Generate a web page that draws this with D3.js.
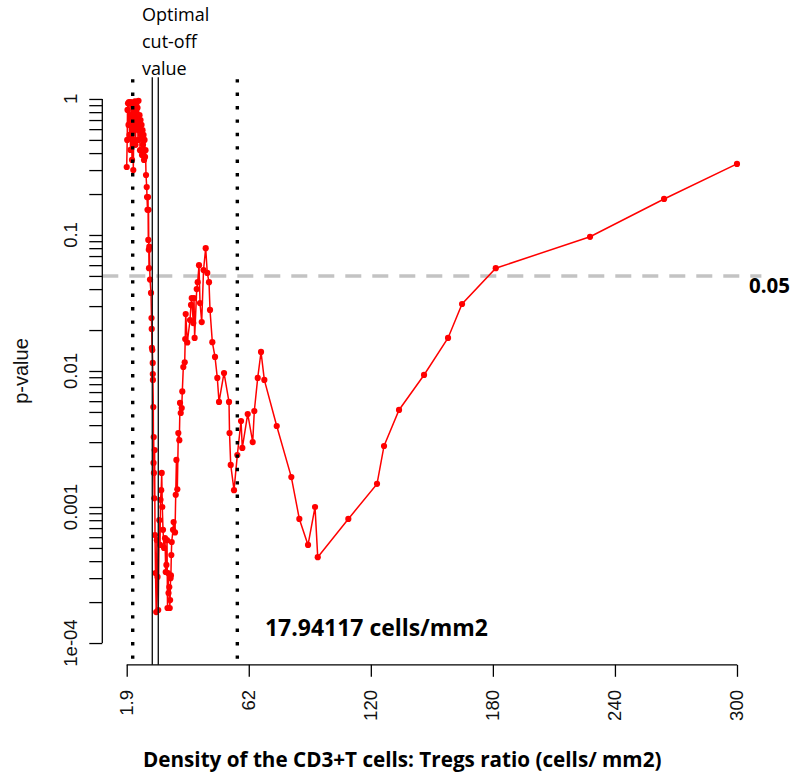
<!DOCTYPE html>
<html>
<head>
<meta charset="utf-8">
<script src="https://cdn.jsdelivr.net/npm/d3@7"></script>
<style>
  html, body { margin: 0; padding: 0; background: #fff; }
  svg { display: block; }
</style>
</head>
<body>
<svg id="chart" width="795" height="782"></svg>
<script>
// ---------- DATA ----------
const cutoffs = [
  1.90, 2.14, 2.29, 2.54, 2.78, 3.02, 3.27, 3.51, 3.76, 4.00,
  4.24, 4.49, 4.73, 4.98, 5.12, 5.47, 5.71, 5.95, 6.20, 6.44,
  6.69, 6.93, 7.18, 7.42, 7.66, 7.91, 8.15, 8.40, 8.64, 8.89,
  9.13, 9.37, 9.62, 9.86, 10.11, 10.35, 10.60, 10.84, 11.08, 11.33,
  11.67, 11.82, 12.06, 12.31, 12.45, 12.55, 12.70, 12.79, 12.94, 13.28,
  13.77, 14.01, 14.11, 14.21, 14.41, 14.60, 14.65, 14.70, 14.89, 14.99,
  15.09, 15.19, 15.38, 15.55, 15.72, 15.97, 16.31, 16.65, 16.95, 17.29,
  17.83, 18.17, 18.41, 18.75, 19.00, 19.29, 19.63, 20.12, 20.61, 20.95,
  21.29, 21.59, 21.83, 22.08, 22.32, 22.71, 22.91, 23.10, 23.30, 23.49,
  23.69, 23.88, 24.52, 24.81, 25.49, 25.84, 26.18, 26.62, 27.11, 27.60,
  27.94, 28.28, 28.77, 29.06, 29.55, 30.23, 30.48, 30.72, 31.50, 32.82,
  33.31, 33.66, 34.43, 34.78, 35.07, 36.10, 36.58, 37.22, 37.71, 38.54,
  39.42, 40.48, 41.26, 42.10, 42.59, 43.72, 45.03, 46.16, 46.99, 49.43,
  51.87, 52.12, 52.70, 54.32, 55.93, 57.74, 58.37, 61.01, 63.45, 64.23,
  65.89, 67.51, 69.12, 75.18, 82.31, 86.22, 90.47, 93.89, 95.21, 110.15,
  124.17, 127.59, 134.92, 147.13, 158.86, 165.70, 182.16, 228.23, 264.38, 300.00
];
const pValues = [
  0.316, 0.50, 0.83, 0.93, 0.644, 0.95, 0.544, 0.762, 0.422, 0.95,
  0.70, 0.356, 0.90, 0.50, 0.30, 0.83, 0.59, 0.96, 0.46, 0.725,
  0.95, 0.644, 0.86, 0.50, 0.97, 0.59, 0.76, 0.42, 0.70, 0.544,
  0.644, 0.388, 0.59, 0.46, 0.544, 0.356, 0.50, 0.375, 0.42, 0.276,
  0.225, 0.19, 0.153, 0.19, 0.092, 0.153, 0.078, 0.057, 0.082, 0.047,
  0.0375, 0.0245, 0.0204, 0.0148, 0.01426, 0.01146, 0.0095, 0.0086, 0.00543, 0.00211,
  0.00327, 0.00178, 0.00116, 0.00262, 0.000622, 0.000327, 0.000169, 0.00057, 0.000306, 0.000175,
  0.0008, 0.000526, 0.00113, 0.00133, 0.00178, 0.001, 0.00068, 0.0005, 0.00059, 0.000333,
  0.000375, 0.00057, 0.000181, 0.000327, 0.000233, 0.000258, 0.000181, 0.000207, 0.0003, 0.000314,
  0.000444, 0.000553, 0.00068, 0.000776, 0.00065, 0.00123, 0.00222, 0.00135, 0.0035, 0.0031,
  0.00582, 0.00491, 0.00534, 0.00708, 0.0107, 0.0116, 0.01718, 0.0262, 0.0162, 0.0237,
  0.0306, 0.0344, 0.0225, 0.0344, 0.0175, 0.040, 0.045, 0.060, 0.0316, 0.0229,
  0.0553, 0.080, 0.0526, 0.045, 0.0281, 0.0163, 0.0127, 0.00889, 0.00592, 0.00967,
  0.00592, 0.0035, 0.00204, 0.00133, 0.00241, 0.00429, 0.00272, 0.00483, 0.0030, 0.00508,
  0.00889, 0.0138, 0.0086, 0.00394, 0.00166, 0.000817, 0.000526, 0.001, 0.000428, 0.000817,
  0.00148, 0.00281, 0.00517, 0.00935, 0.0175, 0.0311, 0.057, 0.097, 0.184, 0.333
];
const xTickValues = [1.9, 61.52, 121.14, 180.76, 240.38, 300];
const xTickLabels = ["1.9", "62", "120", "180", "240", "300"];
const yMajorTicks = [1, 0.1, 0.01, 0.001, 0.0001];
const yMajorLabels = ["1", "0.1", "0.01", "0.001", "1e-04"];
const optimalCutoffs = [14.40, 17.33];
const dottedCutoffs = [4.83, 55.93];
const threshold = 0.05;
const thresholdLabel = "0.05";
const cutoffLabel = "17.94117 cells/mm2";
const optimalLabel = ["Optimal", "cut-off", "value"];
const xTitle = "Density of the CD3+T cells: Tregs ratio (cells/ mm2)";
const yTitle = "p-value";

// ---------- LAYOUT ----------
const svg = d3.select("#chart");
const plotL = 102.3, plotR = 761.4, plotT = 77.2, plotB = 664.8;
const xr = d3.extent(cutoffs), xPad = 0.04 * (xr[1] - xr[0]);
const x = d3.scaleLinear().domain([xr[0] - xPad, xr[1] + xPad]).range([plotL, plotR]);
const y = d3.scaleLog().domain([Math.pow(10, -4.16), Math.pow(10, 0.16)]).range([plotB, plotT]);

const tickFont = "'Liberation Sans', Arial, sans-serif";
const calFont = "'Open Sans', 'Noto Sans', sans-serif";

// threshold dashed line
svg.append("line")
  .attr("x1", plotL).attr("x2", plotR)
  .attr("y1", y(threshold)).attr("y2", y(threshold))
  .attr("stroke", "#c3c3c3").attr("stroke-width", 3.5)
  .attr("stroke-dasharray", "16,11");

// data line + points
const pts = cutoffs.map((c, i) => [c, pValues[i]]);
svg.append("path")
  .datum(pts)
  .attr("fill", "none").attr("stroke", "#ff0000").attr("stroke-width", 1.5)
  .attr("d", d3.line().x(d => x(d[0])).y(d => y(d[1])));
svg.append("g").selectAll("circle").data(pts).join("circle")
  .attr("cx", d => x(d[0])).attr("cy", d => y(d[1])).attr("r", 3.1)
  .attr("fill", "#ff0000");

// vertical lines
svg.append("g").selectAll("line").data(dottedCutoffs).join("line")
  .attr("x1", d => x(d)).attr("x2", d => x(d))
  .attr("y1", plotT + 2).attr("y2", plotB)
  .attr("stroke", "#000").attr("stroke-width", 3.4)
  .attr("stroke-dasharray", "3.4,10");
svg.append("g").selectAll("line").data(optimalCutoffs).join("line")
  .attr("x1", d => x(d)).attr("x2", d => x(d))
  .attr("y1", plotT).attr("y2", plotB)
  .attr("stroke", "#1a1a1a").attr("stroke-width", 1.4);

// y axis (log, with minor ticks 1..9 per decade)
const yTicks = [];
for (let e = -4; e <= -1; e++) for (let m = 1; m <= 9; m++) yTicks.push(m * Math.pow(10, e));
yTicks.push(1);
const yAxis = d3.axisLeft(y).tickValues(yTicks).tickSize(13).tickSizeOuter(0).tickFormat("");
const gy = svg.append("g").attr("transform", `translate(${plotL},0)`).call(yAxis);
gy.select(".domain").remove();
gy.selectAll(".tick line").attr("stroke", "#000").attr("stroke-width", 1.3);
svg.append("line").attr("x1", plotL).attr("x2", plotL)
  .attr("y1", y(1e-4)).attr("y2", y(1))
  .attr("stroke", "#000").attr("stroke-width", 1.3);
svg.append("g").selectAll("text").data(yMajorTicks).join("text")
  .attr("transform", d => `translate(77,${y(d)}) rotate(-90)`)
  .attr("text-anchor", "middle")
  .attr("font-family", tickFont).attr("font-size", 18.5).attr("fill", "#111")
  .text((d, i) => yMajorLabels[i]);

// x axis
const xAxis = d3.axisBottom(x).tickValues(xTickValues).tickSize(12).tickSizeOuter(0).tickFormat("");
const gx = svg.append("g").attr("transform", `translate(0,${plotB})`).call(xAxis);
gx.select(".domain").remove();
gx.selectAll(".tick line").attr("stroke", "#000").attr("stroke-width", 1.3);
svg.append("line").attr("x1", x(xTickValues[0])).attr("x2", x(xTickValues[xTickValues.length - 1]))
  .attr("y1", plotB).attr("y2", plotB)
  .attr("stroke", "#000").attr("stroke-width", 1.3);
svg.append("g").selectAll("text").data(xTickValues).join("text")
  .attr("transform", d => `translate(${x(d) + 6.5},690) rotate(-90)`)
  .attr("text-anchor", "end")
  .attr("font-family", tickFont).attr("font-size", 18.5).attr("fill", "#111")
  .text((d, i) => xTickLabels[i]);

// y title
svg.append("text")
  .attr("transform", `translate(28,${(plotT + plotB) / 2}) rotate(-90)`)
  .attr("text-anchor", "middle")
  .attr("font-family", tickFont).attr("font-size", 20).attr("fill", "#111")
  .text(yTitle);

// annotation texts
function fitWidth(sel, w) {
  const fs = parseFloat(sel.attr("font-size"));
  const cur = sel.node().getComputedTextLength();
  sel.attr("font-size", fs * w / cur);
}
const t1 = svg.append("text").attr("x", 143).attr("y", 767)
  .attr("font-family", calFont).attr("font-weight", 700).attr("font-size", 19)
  .attr("fill", "#000").text(xTitle);
fitWidth(t1, 519);

const t2 = svg.append("text").attr("x", 265).attr("y", 636)
  .attr("font-family", calFont).attr("font-weight", 700).attr("font-size", 23.5)
  .attr("fill", "#000").text(cutoffLabel);
fitWidth(t2, 223);

const t3 = svg.append("text").attr("x", 749).attr("y", 292.5)
  .attr("font-family", calFont).attr("font-weight", 700).attr("font-size", 19.5)
  .attr("fill", "#000").text(thresholdLabel);
fitWidth(t3, 41);

svg.append("g").selectAll("text").data(optimalLabel).join("text")
  .attr("x", 142).attr("y", (d, i) => 21 + i * 27)
  .attr("font-family", calFont).attr("font-size", 18).attr("fill", "#000")
  .text(d => d);
</script>
</body>
</html>
